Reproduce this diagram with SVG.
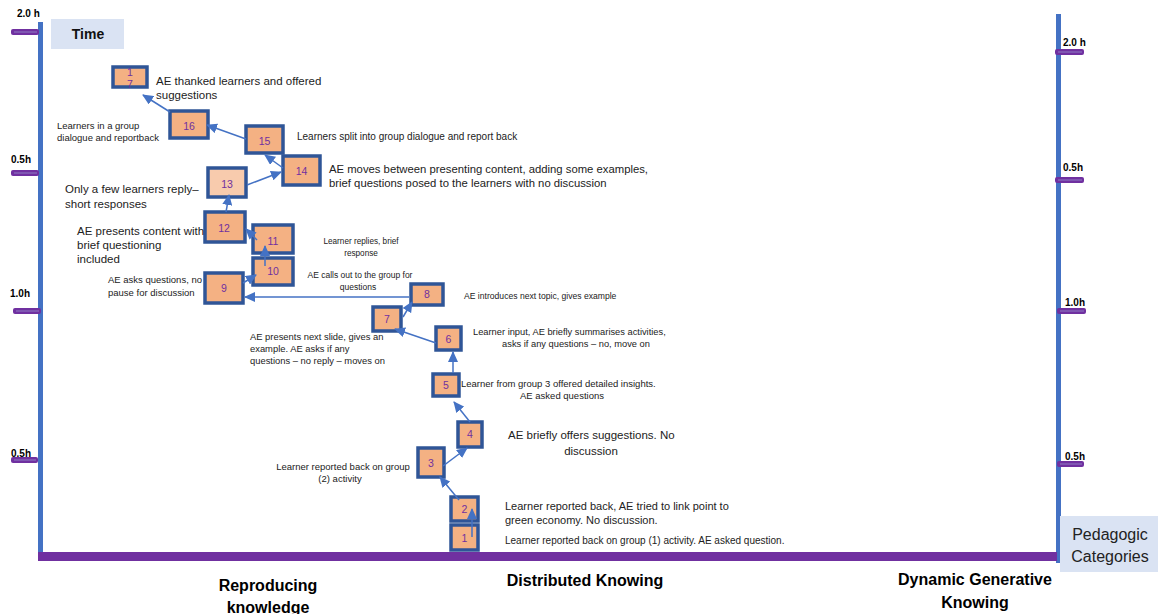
<svg xmlns="http://www.w3.org/2000/svg" width="1158" height="614" viewBox="0 0 1158 614">
  <style>
    .axis { fill: #4472C4; }
    .base { fill: #7030A0; }
    .tick { fill: #7030A0; }
    .tickline { stroke: #8E7CC3; stroke-width: 1; }
    .tlabel { font-family: "Liberation Sans", Arial, sans-serif; font-size: 10px; font-weight: bold; fill: #000; }
    .box rect { fill: #F4B183; stroke: #2F5597; stroke-width: 3.5; }
    .box.light rect { fill: #F8CBAD; }
    .box text { font-family: "Liberation Sans", Arial, sans-serif; font-size: 10.5px; fill: #7030A0; text-anchor: middle; }
    .lbl { font-family: "Liberation Sans", Arial, sans-serif; fill: #222; }
    .cat { font-family: "Liberation Sans Narrow", "Liberation Sans", Arial, sans-serif; font-size: 16px; font-weight: bold; fill: #000; text-anchor: middle; }
    .conn line { stroke: #4472C4; stroke-width: 1.5; marker-end: url(#arr); }
  </style>
  <defs>
    <marker id="arr" markerWidth="11" markerHeight="10" refX="10" refY="5" orient="auto" markerUnits="userSpaceOnUse">
      <path d="M0,0 L11,5 L0,10 z" fill="#4472C4"/>
    </marker>
  </defs>

  <rect width="1158" height="614" fill="#FFFFFF"/>

  <!-- axes -->
  <g id="axes">
    <rect class="axis" x="38" y="22" width="5" height="538"/>
    <rect class="axis" x="1056" y="14" width="5" height="549"/>
    <rect class="base" x="38" y="552" width="1019" height="9"/>
  </g>

  <!-- time ticks, left -->
  <g id="ticks-left">
    <rect class="tick" x="11" y="29" width="28" height="6" rx="2"/>
    <line class="tickline" x1="14" y1="32" x2="37" y2="32"/>
    <text class="tlabel" x="17" y="17">2.0 h</text>
    <rect class="tick" x="11" y="170" width="28" height="6" rx="2"/>
    <line class="tickline" x1="14" y1="173" x2="37" y2="173"/>
    <text class="tlabel" x="11" y="163">0.5h</text>
    <rect class="tick" x="13" y="308" width="28" height="6" rx="2"/>
    <line class="tickline" x1="16" y1="311" x2="39" y2="311"/>
    <text class="tlabel" x="10" y="297">1.0h</text>
    <rect class="tick" x="11" y="457" width="27" height="6" rx="2"/>
    <line class="tickline" x1="14" y1="460" x2="36" y2="460"/>
    <text class="tlabel" x="11" y="457">0.5h</text>
  </g>

  <!-- time ticks, right -->
  <g id="ticks-right">
    <rect class="tick" x="1055" y="49" width="29" height="6" rx="2"/>
    <line class="tickline" x1="1058" y1="52" x2="1082" y2="52"/>
    <text class="tlabel" x="1063" y="46">2.0 h</text>
    <rect class="tick" x="1055" y="177" width="29" height="6" rx="2"/>
    <line class="tickline" x1="1058" y1="180" x2="1082" y2="180"/>
    <text class="tlabel" x="1063" y="171">0.5h</text>
    <rect class="tick" x="1057" y="308" width="29" height="6" rx="2"/>
    <line class="tickline" x1="1060" y1="311" x2="1084" y2="311"/>
    <text class="tlabel" x="1065" y="306">1.0h</text>
    <rect class="tick" x="1057" y="461" width="27" height="6" rx="2"/>
    <line class="tickline" x1="1060" y1="464" x2="1082" y2="464"/>
    <text class="tlabel" x="1065" y="460">0.5h</text>
  </g>

  <!-- axis titles -->
  <g id="time-title">
    <rect x="51" y="19" width="73" height="30" fill="#DAE3F3"/>
    <text x="88" y="39" font-family="Liberation Sans, Arial, sans-serif" font-size="14" font-weight="bold" text-anchor="middle" fill="#111">Time</text>
  </g>
  <g id="category-title">
    <rect x="1060" y="516" width="98" height="56" fill="#DAE3F3"/>
    <text x="1110" y="540" font-family="Liberation Sans, Arial, sans-serif" font-size="16" text-anchor="middle" fill="#222">Pedagogic</text>
    <text x="1110" y="562" font-family="Liberation Sans, Arial, sans-serif" font-size="16" text-anchor="middle" fill="#222">Categories</text>
  </g>

  <!-- category labels -->
  <g id="categories">
    <text class="cat" x="268" y="591">Reproducing</text>
    <text class="cat" x="268" y="613">knowledge</text>
    <text class="cat" x="585" y="586">Distributed Knowing</text>
    <text class="cat" x="975" y="585">Dynamic Generative</text>
    <text class="cat" x="975" y="608">Knowing</text>
  </g>

  <!-- nodes -->
  <g id="node-1" class="box">
    <rect x="451" y="525" width="27" height="25"/>
    <text x="464.5" y="542">1</text>
  </g>
  <g id="node-2" class="box">
    <rect x="451" y="497" width="27" height="24"/>
    <text x="464.5" y="513">2</text>
  </g>
  <g id="node-3" class="box">
    <rect x="418" y="448" width="26" height="29"/>
    <text x="431" y="467">3</text>
  </g>
  <g id="node-4" class="box">
    <rect x="458" y="422" width="24" height="25"/>
    <text x="470" y="438">4</text>
  </g>
  <g id="node-5" class="box">
    <rect x="433" y="374" width="26" height="22"/>
    <text x="446" y="389">5</text>
  </g>
  <g id="node-6" class="box">
    <rect x="436" y="327" width="25" height="23"/>
    <text x="448.5" y="343">6</text>
  </g>
  <g id="node-7" class="box">
    <rect x="373" y="307" width="28" height="24"/>
    <text x="387" y="323">7</text>
  </g>
  <g id="node-8" class="box">
    <rect x="411" y="284" width="32" height="21"/>
    <text x="427" y="298">8</text>
  </g>
  <g id="node-9" class="box">
    <rect x="205" y="273" width="38" height="30"/>
    <text x="224" y="292">9</text>
  </g>
  <g id="node-10" class="box">
    <rect x="253" y="258" width="40" height="27"/>
    <text x="273" y="275">10</text>
  </g>
  <g id="node-11" class="box">
    <rect x="253" y="225" width="40" height="28"/>
    <text x="273" y="245">11</text>
  </g>
  <g id="node-12" class="box">
    <rect x="205" y="212" width="40" height="30"/>
    <text x="224" y="232">12</text>
  </g>
  <g id="node-13" class="box light">
    <rect x="208" y="168" width="38" height="29"/>
    <text x="227" y="188">13</text>
  </g>
  <g id="node-14" class="box">
    <rect x="283" y="156" width="37" height="29"/>
    <text x="301.5" y="175">14</text>
  </g>
  <g id="node-15" class="box">
    <rect x="246" y="126" width="37" height="27"/>
    <text x="264.5" y="145">15</text>
  </g>
  <g id="node-16" class="box">
    <rect x="170" y="111" width="38" height="27"/>
    <text x="189" y="130">16</text>
  </g>
  <g id="node-17" class="box">
    <rect x="113" y="67" width="34" height="20"/>
    <text x="130" y="76">1</text>
    <text x="130" y="88">7</text>
  </g>

  <!-- connectors, drawn over the boxes -->
  <g id="connectors" class="conn">
    <line x1="472" y1="537" x2="472" y2="509"/>
    <line x1="459" y1="500" x2="440" y2="477"/>
    <line x1="443" y1="466" x2="467" y2="448"/>
    <line x1="470" y1="422" x2="454" y2="402"/>
    <line x1="453" y1="373" x2="453" y2="352"/>
    <line x1="436" y1="343" x2="395" y2="329"/>
    <line x1="403" y1="317" x2="412" y2="302"/>
    <line x1="409" y1="297" x2="245" y2="297"/>
    <line x1="243" y1="283" x2="256" y2="275"/>
    <line x1="265" y1="266" x2="265" y2="246"/>
    <line x1="257" y1="240" x2="246" y2="229"/>
    <line x1="226" y1="212" x2="229" y2="195"/>
    <line x1="247" y1="185" x2="281" y2="172"/>
    <line x1="283" y1="168" x2="265" y2="155"/>
    <line x1="246" y1="139" x2="207" y2="125"/>
    <line x1="170" y1="112" x2="143" y2="95"/>
  </g>

  <!-- annotations -->
  <g id="notes" class="lbl">
    <text x="156" y="85" font-size="11.5">AE thanked learners and offered</text>
    <text x="156" y="99" font-size="11.5">suggestions</text>

    <text x="57" y="129" font-size="9.5">Learners in a group</text>
    <text x="57" y="141" font-size="9.5">dialogue and reportback</text>

    <text x="297" y="140" font-size="10">Learners split into group dialogue and report back</text>

    <text x="329" y="173" font-size="11.3">AE moves between presenting content, adding some examples,</text>
    <text x="329" y="187" font-size="11.3">brief questions posed to the learners with no discussion</text>

    <text x="65" y="193" font-size="11.5">Only a few learners reply–</text>
    <text x="65" y="208" font-size="11.5">short responses</text>

    <text x="77" y="235" font-size="11.5">AE presents content with</text>
    <text x="77" y="249" font-size="11.5">brief questioning</text>
    <text x="77" y="263" font-size="11.5">included</text>

    <text x="361" y="244" font-size="8.2" text-anchor="middle">Learner replies, brief</text>
    <text x="361" y="256" font-size="8.2" text-anchor="middle">response</text>

    <text x="360" y="278" font-size="8.5" text-anchor="middle">AE calls out to the group for</text>
    <text x="358" y="290" font-size="8.5" text-anchor="middle">questions</text>

    <text x="108" y="283" font-size="9.5">AE asks questions, no</text>
    <text x="108" y="296" font-size="9.5">pause for discussion</text>

    <text x="464" y="299" font-size="8.6">AE introduces next topic, gives example</text>

    <text x="250" y="340" font-size="9.4">AE presents next slide, gives an</text>
    <text x="250" y="352" font-size="9.4">example. AE asks if any</text>
    <text x="250" y="364" font-size="9.4">questions – no reply – moves on</text>

    <text x="473" y="335" font-size="9.3">Learner input, AE briefly summarises activities,</text>
    <text x="576" y="347" font-size="9.3" text-anchor="middle">asks if any questions – no, move on</text>

    <text x="461" y="387" font-size="9.5">Learner from group 3 offered detailed insights.</text>
    <text x="562" y="399" font-size="9.5" text-anchor="middle">AE asked questions</text>

    <text x="508" y="439" font-size="11.5">AE briefly offers suggestions. No</text>
    <text x="591" y="455" font-size="11.5" text-anchor="middle">discussion</text>

    <text x="343" y="470" font-size="9.5" text-anchor="middle">Learner reported back on group</text>
    <text x="340" y="482" font-size="9.5" text-anchor="middle">(2) activity</text>

    <text x="505" y="510" font-size="11">Learner reported back, AE tried to link point to</text>
    <text x="505" y="524" font-size="11">green economy. No discussion.</text>

    <text x="505" y="544" font-size="10">Learner reported back on group (1) activity. AE asked question.</text>
  </g>
</svg>
